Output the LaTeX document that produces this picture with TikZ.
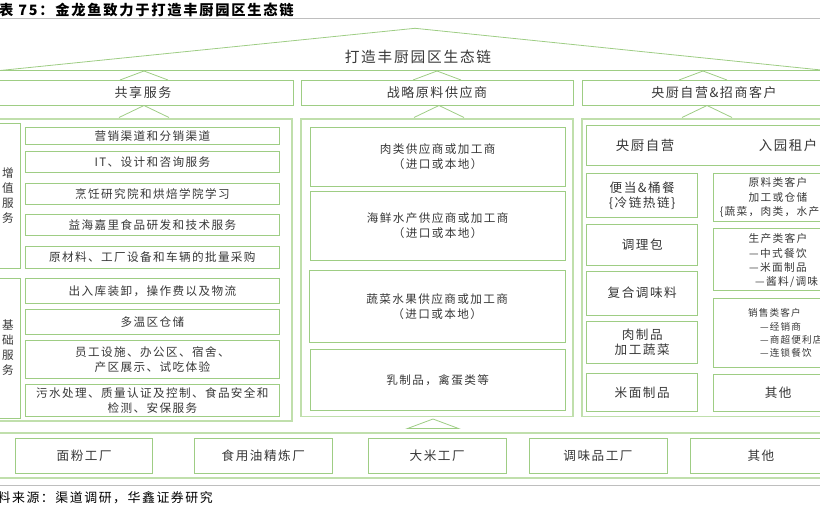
\documentclass[tikz,border=0pt]{standalone}
\usepackage{fontspec}
\newfontfamily\cjk{Noto Sans CJK SC}[LetterSpace=12]
\usetikzlibrary{calc}
\definecolor{gl}{RGB}{158,205,132}
\definecolor{gl2}{RGB}{192,223,172}
\definecolor{txt}{RGB}{55,55,55}
\definecolor{gline}{RGB}{190,190,190}
\tikzset{
  box/.style={draw=gl, line width=0.8pt, inner sep=0pt, align=center, text=txt, font=\cjk\fontsize{11.6}{15}\selectfont},
  panel/.style={draw=gl2, line width=1.8pt, inner sep=0pt},
  hdr/.style={box, font=\cjk\fontsize{13}{15}\selectfont},
  big/.style={box, font=\cjk\fontsize{12.6}{15}\selectfont},
  tri/.style={draw=gl, line width=0.8pt},
  lbl/.style={inner sep=0pt, text=txt, font=\cjk\fontsize{10.7}{13}\selectfont},
}
\newcommand\bx[7][]{\node[box,#1,minimum width={(#5-#3)*1pt},minimum height={(#6-#4)*1pt}] (#2) at ({(#3+#5)/2},{(#4+#6)/2}) {#7};}
\begin{document}
\begin{tikzpicture}[x=1pt,y=-1pt]
\useasboundingbox (0,0) rectangle (820,512);
\clip (0,0) rectangle (820,512);
% title
\node[anchor=east, inner sep=0pt, font=\cjk\bfseries\fontsize{14.3}{16}\selectfont] (title) at (294,10.5) {表 75：金龙鱼致力于打造丰厨园区生态链};
\draw[gline, line width=0.8pt] (0,18.5) -- (820,18.5);
% roof
\coordinate (rl) at (-2,70.7);
\coordinate (ra) at (415,28.3);
\coordinate (rr) at (828,70.7);
\draw[tri] (rl) -- (ra) -- (rr);
\draw[tri] (0,70.7) -- (820,70.7);
\node[inner sep=0pt, text=txt, font=\cjk\fontsize{14.7}{16}\selectfont] (roof) at (418,57) {打造丰厨园区生态链};
% headers
\bx[hdr]{h1}{-7}{80}{293}{105}{共享服务}
\bx[hdr]{h2}{301}{80}{573}{105}{战略原料供应商}
\bx[hdr]{h3}{582}{80}{846}{105}{央厨自营\&招商客户}
% triangles
\foreach \c in {144,437,703} {\draw[tri] (\c-24,80) -- (\c,71) -- (\c+24,80);}
\foreach \c in {144,439,707} {\draw[tri] (\c-25,117.5) -- (\c,105.5) -- (\c+25,117.5);}
\draw[tri] (407.5,428.5) -- (433,419) -- (458.5,428.5) -- cycle;
% panels
\bx[panel]{p1}{-8}{119}{292}{421}{}
\bx[panel]{p2}{301}{119}{573}{416.5}{}
\bx[panel]{p3}{582}{119}{852}{416.5}{}
% left panel
\bx{zz}{-4}{123}{20}{268}{增\\值\\服\\务}
\bx{jc}{-4}{278}{20}{418}{基\\础\\服\\务}
\bx{l1}{25.7}{127.7}{279}{144.3}{营销渠道和分销渠道}
\bx{l2}{25.7}{151.7}{279}{172.3}{IT、设计和咨询服务}
\bx{l3}{25.7}{183.3}{279}{204.3}{烹饪研究院和烘焙学院学习}
\bx{l4}{25.7}{214.3}{279}{235.7}{益海嘉里食品研发和技术服务}
\bx{l5}{25.7}{246.7}{279}{268.3}{原材料、工厂设备和车辆的批量采购}
\bx{l6}{25.7}{278.3}{279}{303.3}{出入库装卸，操作费以及物流}
\bx{l7}{25.7}{309.3}{279}{334}{多温区仓储}
\bx{l8}{25.7}{340}{279}{378.3}{员工设施、办公区、宿舍、\\产区展示、试吃体验}
\bx{l9}{25.7}{384}{279}{416.7}{污水处理、质量认证及控制、食品安全和\\检测、安保服务}
% middle panel
\bx{m1}{310}{127.3}{565.5}{186}{肉类供应商或加工商\\（进口或本地）}
\bx{m2}{310}{191.7}{565.5}{260}{海鲜水产供应商或加工商\\（进口或本地）}
\bx{m3}{309}{270}{565.5}{342.7}{蔬菜水果供应商或加工商\\（进口或本地）}
\bx{m4}{310}{349.3}{565.5}{410.7}{乳制品，禽蛋类等}
% right panel
\bx{rt}{586.7}{125}{848}{165}{}
\node[inner sep=0pt, text=txt, font=\cjk\fontsize{13.4}{15}\selectfont] (t1) at (645,145) {央厨自营};
\node[inner sep=0pt, text=txt, font=\cjk\fontsize{13.4}{15}\selectfont] (t2) at (788,145) {入园租户};
\bx[big]{a1}{586.7}{173.3}{697.7}{217.3}{便当\&桶餐\\\{冷链热链\}}
\bx[big]{a2}{586.7}{224.3}{697.7}{265}{调理包}
\bx[big]{a3}{586.7}{271}{697.7}{315}{复合调味料}
\bx[big]{a4}{586.7}{321.7}{697.7}{363.3}{肉制品\\加工蔬菜}
\bx[big]{a5}{586.7}{373.3}{697.7}{411.7}{米面制品}
\bx{b1}{713.3}{173.3}{843}{221}{}
\bx{b2}{713.3}{228.3}{843}{290.7}{}
\bx{b3}{713.3}{298.3}{843}{367.3}{}
\bx[big]{b4}{713.3}{374}{843}{411.7}{其他}
\node[lbl] (b1a) at (778,182.7) {原料类客户};
\node[lbl] (b1b) at (778,197.3) {加工或仓储};
\node[lbl] (b1c) at (778,211.7) {\{蔬菜，肉类，水产品\}};
\node[lbl] (b2a) at (778,238.3) {生产类客户};
\node[lbl, anchor=west] (b2b) at (749,253.5) {—中式餐饮};
\node[lbl, anchor=west] (b2c) at (749,267) {—米面制品};
\node[lbl, anchor=west] (b2d) at (755,281.7) {—酱料/调味品};
\node[lbl, anchor=west, font=\cjk\fontsize{9.6}{12}\selectfont] (b3a) at (748,313.3) {销售类客户};
\node[lbl, anchor=west, font=\cjk\fontsize{9.6}{12}\selectfont] (b3b) at (760,326.7) {—经销商};
\node[lbl, anchor=west, font=\cjk\fontsize{9.6}{12}\selectfont] (b3c) at (760,340) {—商超便利店};
\node[lbl, anchor=west, font=\cjk\fontsize{9.6}{12}\selectfont] (b3d) at (760,353.3) {—连锁餐饮};
% bottom band
\bx[panel]{band}{-5}{433.3}{825}{477.7}{}
\bx[big]{f1}{15.7}{438.3}{152.7}{473.3}{面粉工厂}
\bx[big]{f2}{194.6}{438.3}{332}{473.3}{食用油精炼厂}
\bx[big]{f3}{368.3}{438.3}{506}{473.3}{大米工厂}
\bx[big]{f4}{529}{438.3}{667}{473.3}{调味品工厂}
\bx[big]{f5}{690}{438.3}{832}{473.3}{其他}
% source
\draw[gline, line width=0.8pt] (0,485) -- (820,485);
\node[anchor=east, inner sep=0pt, text=black, font=\cjk\fontsize{12.9}{14}\selectfont] (src) at (213,497.5) {资料来源：渠道调研，华鑫证券研究};
\end{tikzpicture}
\end{document}
